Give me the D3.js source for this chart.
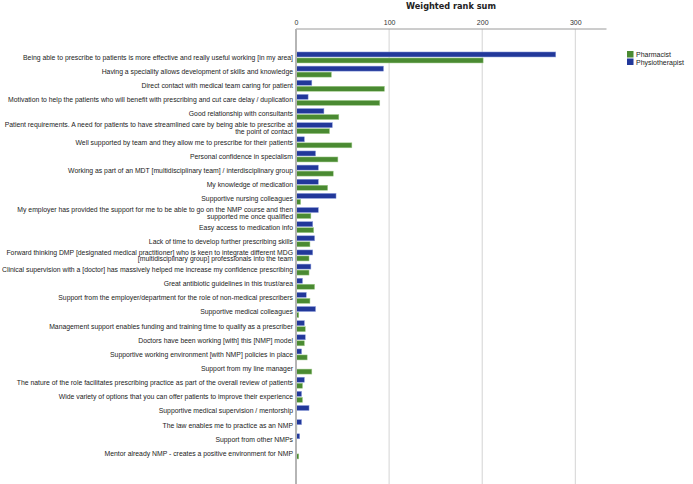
<!DOCTYPE html>
<html><head><meta charset="utf-8">
<script src="https://cdn.jsdelivr.net/npm/d3@7"></script>
<style>body{margin:0;background:#fff}svg{display:block}</style>
</head><body>
<svg id="c" width="693" height="484"></svg>
<script>
const categories = [
  ["Being able to prescribe to patients is more effective and really useful working [in my area]"],
  ["Having a speciality allows development of skills and knowledge"],
  ["Direct contact with medical team caring for patient"],
  ["Motivation to help the patients who will benefit with prescribing and cut care delay / duplication"],
  ["Good relationship with consultants"],
  ["Patient requirements. A need for patients to have streamlined care by being able to prescribe at", "the point of contact"],
  ["Well supported by team and they allow me to prescribe for their patients"],
  ["Personal confidence in specialism"],
  ["Working as part of an MDT [multidisciplinary team] / interdisciplinary group"],
  ["My knowledge of medication"],
  ["Supportive nursing colleagues"],
  ["My employer has provided the support for me to be able to go on the NMP course and then", "supported me once qualified"],
  ["Easy access to medication info"],
  ["Lack of time to develop further prescribing skills"],
  ["Forward thinking DMP [designated medical practitioner] who is keen to integrate different MDG", "[multidisciplinary group] professionals into the team"],
  ["Clinical supervision with a [doctor] has massively helped me increase my confidence prescribing"],
  ["Great antibiotic guidelines in this trust/area"],
  ["Support from the employer/department for the role of non-medical prescribers"],
  ["Supportive medical colleagues"],
  ["Management support enables funding and training time to qualify as a prescriber"],
  ["Doctors have been working [with] this [NMP] model"],
  ["Supportive working environment [with NMP] policies in place"],
  ["Support from my line manager"],
  ["The nature of the role facilitates prescribing practice as part of the overall review of patients"],
  ["Wide variety of options that you can offer patients to improve their experience"],
  ["Supportive medical supervision / mentorship"],
  ["The law enables me to practice as an NMP"],
  ["Support from other NMPs"],
  ["Mentor already NMP - creates a positive environment for NMP"]
];
const physiotherapist = [279, 94, 17, 13, 30, 39, 9, 21, 24, 24, 43, 24, 18, 20, 18, 16, 7, 11, 21, 9, 10, 6, 0, 9, 6, 14, 6, 4, 0];
const pharmacist = [201, 38, 95, 90, 46, 36, 60, 45, 40, 34, 5, 16, 19, 15, 14, 14, 20, 15, 3, 10, 9, 12, 17, 7, 7, 0, 1, 0, 3];
const seriesNames = ["Pharmacist", "Physiotherapist"];
const tickValues = [0, 100, 200, 300];
const title = "Weighted rank sum";

const colors = {Pharmacist: "#4a8a32", Physiotherapist: "#22389a"};
const svg = d3.select("#c");
const x0 = 296, x1 = 606.5, yTop = 29, yBot = 484;
const x = d3.scaleLinear().domain([0, 333.5]).range([x0, x1]);
const idx = categories.map((d, i) => i);
const y = d3.scaleBand().domain(idx).range([50.4, 460.5]).padding(0);
const font = "'Liberation Sans', Arial, sans-serif";

// gridlines
svg.append("g").selectAll("line").data(tickValues.filter(v => v > 0)).join("line")
  .attr("x1", d => x(d)).attr("x2", d => x(d)).attr("y1", yTop).attr("y2", yBot)
  .attr("stroke", "#d4d4d4").attr("stroke-width", 1);

// top axis
const axis = d3.axisTop(x).tickValues(tickValues).tickSize(0).tickPadding(4);
const ag = svg.append("g").attr("transform", `translate(0,${yTop})`).call(axis);
ag.select(".domain").attr("stroke", "#9a9a9a").attr("d", `M${x0},0H${x1}`);
ag.selectAll("text").attr("font-family", font).attr("font-size", 7).attr("fill", "#333");

// title
svg.append("text").attr("x", 451).attr("y", 9).attr("text-anchor", "middle")
  .attr("font-family", "'DejaVu Sans', sans-serif").attr("font-weight", "bold").attr("font-size", 8.2)
  .attr("fill", "#222").text(title);

// bars
const bh = 5;
const gb = svg.append("g");
gb.selectAll("rect.phys").data(physiotherapist).join("rect").attr("class", "phys")
  .attr("x", x(0)).attr("y", (d, i) => y(i) + y.bandwidth() / 2 - bh - 0.5)
  .attr("width", d => x(d) - x(0)).attr("height", bh)
  .attr("fill", colors.Physiotherapist).attr("stroke", "#8fa0dd").attr("stroke-width", 0.5);
gb.selectAll("rect.pharm").data(pharmacist).join("rect").attr("class", "pharm")
  .attr("x", x(0)).attr("y", (d, i) => y(i) + y.bandwidth() / 2 + 0.5)
  .attr("width", d => x(d) - x(0)).attr("height", bh)
  .attr("fill", colors.Pharmacist).attr("stroke", "#a5cf90").attr("stroke-width", 0.5);

// zero line
svg.append("line").attr("x1", x(0)).attr("x2", x(0)).attr("y1", yTop).attr("y2", yBot)
  .attr("stroke", "#b5b5b5").attr("stroke-width", 2);

// category labels
const lg = svg.append("g");
categories.forEach((lines, i) => {
  const cy = y(i) + y.bandwidth() / 2;
  const lh = 6.6;
  const t = lg.append("text").attr("x", 293).attr("text-anchor", "end")
    .attr("font-family", font).attr("font-size", 6.85).attr("fill", "#222");
  lines.forEach((ln, j) => {
    t.append("tspan").attr("x", 293)
      .attr("y", cy + 2.4 + (j - (lines.length - 1) / 2) * lh).text(ln);
  });
});

// legend
const leg = svg.append("g").attr("transform", "translate(627,51)");
seriesNames.forEach((s, i) => {
  leg.append("rect").attr("x", 0).attr("y", i * 7.5).attr("width", 6.5).attr("height", 6.5).attr("fill", colors[s]);
  leg.append("text").attr("x", 9).attr("y", i * 7.5 + 6).attr("font-family", font)
    .attr("font-size", 7).attr("fill", "#222").text(s);
});
</script>
</body></html>
